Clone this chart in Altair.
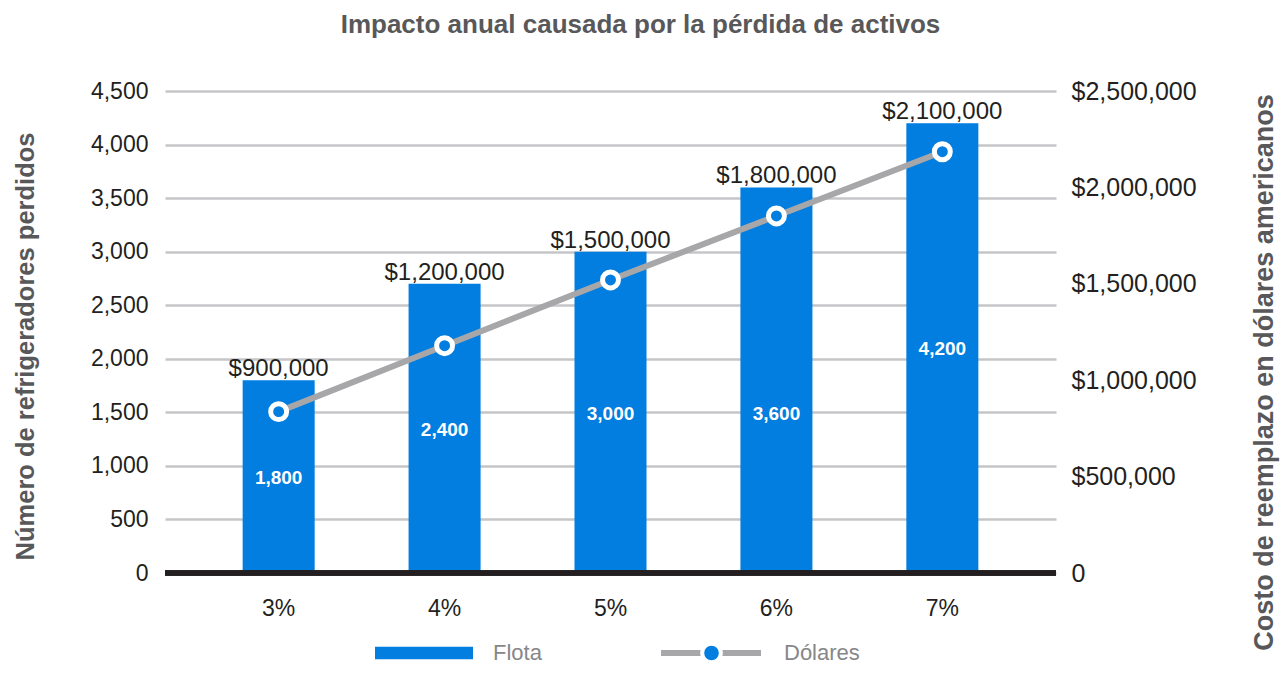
import altair as alt
import pandas as pd

# ---- data ----
categories = ["3%", "4%", "5%", "6%", "7%"]
flota = [1800, 2700, 3000, 3600, 4200]
flota_labels = ["1,800", "2,400", "3,000", "3,600", "4,200"]
flota_label_pos = [885, 1335, 1480, 1480, 2090]
dolares = [837000, 1179000, 1520000, 1852000, 2185000]
dolares_labels = ["$900,000", "$1,200,000", "$1,500,000", "$1,800,000", "$2,100,000"]
left_ticks = [0, 500, 1000, 1500, 2000, 2500, 3000, 3500, 4000, 4500]
right_ticks = [0, 500000, 1000000, 1500000, 2000000, 2500000]

BLUE = "#027de0"
GRAY_LINE = "#a7a7a9"
GRID = "#c6c6c8"
DARK = "#231f20"
TITLE_GRAY = "#58585a"
LEG = "#87878a"
FONT = "Liberation Sans"

df = pd.DataFrame({
    "cat": categories,
    "flota": flota,
    "flota_label": flota_labels,
    "lab_y": flota_label_pos,
    "dolares": dolares,
    "dol_label": dolares_labels,
})
df["serie_bar"] = "Flota"
df["serie_line"] = "Dólares"
df["serie_pt"] = "punto"

x = alt.X(
    "cat:N", sort=categories,
    scale=alt.Scale(paddingInner=0.566, paddingOuter=0.468),
    axis=alt.Axis(title=None, labelFontSize=23, labelColor=DARK, labelPadding=24,
                  tickSize=0, ticks=False, domain=False, grid=False, labelAngle=0),
)

base = alt.Chart(df)

left_axis = alt.Axis(
    values=left_ticks, labelExpr="format(datum.value, ',')",
    title="Número de refrigeradores perdidos",
    titleX=-140, titleY=255, titleAngle=-90, titleAlign="center", titleBaseline="middle",
    titleFontSize=25.5, titleFontWeight="bold", titleColor=TITLE_GRAY,
    labelFontSize=23, labelColor=DARK, labelPadding=17, tickSize=0, ticks=False,
    domain=False, grid=True, gridColor=GRID, gridWidth=2.5,
)
yl = alt.Scale(domain=[0, 4500], nice=False, zero=True)

LEG_Y = 562  # legend row centre, relative to plot top

bars = base.mark_bar().encode(
    x=x,
    y=alt.Y("flota:Q", scale=yl, axis=left_axis),
    color=alt.Color(
        "serie_bar:N", scale=alt.Scale(domain=["Flota"], range=[BLUE]),
        legend=alt.Legend(orient="none", legendX=210, legendY=LEG_Y - 49, title=None,
                          symbolType="M-1,-0.13H1V0.13H-1Z", symbolSize=9604,
                          symbolStrokeWidth=0, symbolOpacity=1, labelFontSize=22,
                          labelColor=LEG, labelOffset=20, padding=0),
    ),
)

top_labels = base.mark_text(baseline="alphabetic", dy=-4, fontSize=24, color=DARK).encode(
    x=x, y=alt.Y("flota:Q", scale=yl, axis=left_axis), text="dol_label:N"
)

inner_labels = base.mark_text(baseline="middle", fontSize=19, fontWeight="bold", color="white").encode(
    x=x, y=alt.Y("lab_y:Q", scale=yl, axis=left_axis), text="flota_label:N"
)

baseline = base.mark_rule(color=DARK, strokeWidth=5).encode(y=alt.datum(0))

left = alt.layer(bars, top_labels, inner_labels, baseline)

right_axis = alt.Axis(
    orient="right", values=right_ticks,
    labelExpr="datum.value == 0 ? '0' : '$' + format(datum.value, ',')",
    title="Costo de reemplazo en dólares americanos",
    titleX=208, titleY=281, titleAngle=-90, titleAlign="center", titleBaseline="middle",
    titleFontSize=27, titleFontWeight="bold", titleColor=TITLE_GRAY,
    labelFontSize=25, labelColor=DARK, labelPadding=15, tickSize=0, ticks=False,
    domain=False, grid=False,
)
yr = alt.Scale(domain=[0, 2500000], nice=False, zero=True)

line = base.mark_line(strokeWidth=6).encode(
    x=x,
    y=alt.Y("dolares:Q", scale=yr, axis=right_axis),
    stroke=alt.Stroke(
        "serie_line:N", scale=alt.Scale(domain=["Dólares"], range=[GRAY_LINE]),
        legend=alt.Legend(orient="none", legendX=493, legendY=LEG_Y - 53, title=None,
                          symbolType="M-1,0H1", symbolSize=10000, symbolStrokeWidth=6,
                          symbolOpacity=1, labelFontSize=22, labelColor=LEG,
                          labelOffset=20, padding=0, zindex=1),
    ),
)

points = base.mark_point(shape="circle", filled=True, size=254, stroke="white",
                         strokeWidth=5, opacity=1).encode(
    x=x,
    y=alt.Y("dolares:Q", scale=yr, axis=right_axis),
    fill=alt.Fill(
        "serie_pt:N", scale=alt.Scale(domain=["punto"], range=[BLUE]),
        legend=alt.Legend(orient="none", legendX=535, legendY=LEG_Y - 11.5, title=None,
                          symbolType="circle", symbolSize=346, symbolStrokeColor="white",
                          symbolStrokeWidth=4, symbolOpacity=1, labelExpr="''",
                          labelFontSize=1, padding=0, zindex=2),
    ),
)

right = alt.layer(line, points)

chart = (
    alt.layer(left, right)
    .resolve_scale(y="independent")
    .properties(
        width=891, height=482,
        padding={"left": 157, "top": 83, "right": 224, "bottom": 92},
        autosize=alt.AutoSizeParams(type="none"),
        title=alt.TitleParams(text="Impacto anual causada por la pérdida de activos",
                              fontSize=26, fontWeight="bold", color=TITLE_GRAY,
                              anchor="middle", dx=30, offset=41),
    )
    .configure(font=FONT)
    .configure_view(stroke=None)
)

chart.save("out.html", embed_options={"renderer": "svg", "actions": False})
